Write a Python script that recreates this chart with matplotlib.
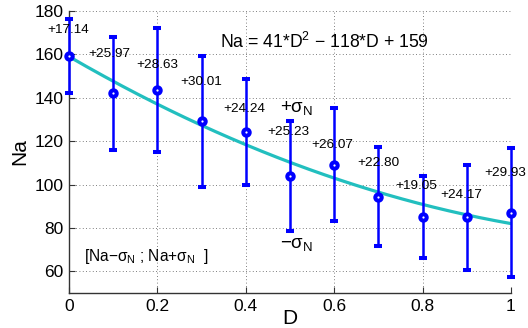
import numpy as np
import matplotlib
matplotlib.use("Agg")
import matplotlib.pyplot as plt

plt.rcParams['font.family'] = ['Liberation Sans', 'DejaVu Sans']
plt.rcParams['mathtext.fontset'] = 'custom'
plt.rcParams['mathtext.rm'] = 'Liberation Sans'
plt.rcParams['mathtext.it'] = 'Liberation Sans'

# data
D = [0.0, 0.1, 0.2, 0.3, 0.4, 0.5, 0.6, 0.7, 0.8, 0.9, 1.0]
Na = [159.3, 142.0, 143.4, 129.1, 124.2, 104.0, 109.2, 94.3, 85.1, 85.0, 87.1]
sigma = [17.14, 25.97, 28.63, 30.01, 24.24, 25.23, 26.07, 22.80, 19.05, 24.17, 29.93]
fit_coef = [41, -118, 159]

# where the +sigma labels sit relative to each point
lab_dx = [-0.05, -0.057, -0.048, -0.049, -0.052, -0.052, -0.051, -0.048, -0.061, -0.061, -0.06]
lab_dy = [12, 18, 11.5, 18, 10.5, 20, 9, 15.5, 14, 10, 18]

fig = plt.figure(figsize=(5.28, 3.28), dpi=100)
ax = fig.add_axes([0.1307, 0.1067, 0.8371, 0.8598])

xx = np.linspace(0, 1, 200)
ax.plot(xx, np.polyval(fit_coef, xx), color='#22bfbf', linewidth=2.3, zorder=2)

ax.errorbar(D, Na, yerr=sigma, fmt='o', color='#0000ff', ecolor='#0000ff',
            elinewidth=1.8, capsize=3, capthick=1.8, markersize=4.6,
            markerfacecolor='white', markeredgewidth=2.9, zorder=3, clip_on=False)

for d, n, s, dx, dy in zip(D, Na, sigma, lab_dx, lab_dy):
    ax.text(d + dx, n + dy, '+%.2f' % s, fontsize=9.7, ha='left', va='center', zorder=4)

ax.text(0.342, 165.5, r'Na = 41*D$^2$ $-$ 118*D + 159', fontsize=12.7, va='center', ha='left')
ax.text(0.478, 135.5, r'$+\sigma_N$', fontsize=13.5, va='center', ha='left')
ax.text(0.478, 72.5, r'$-\sigma_N$', fontsize=13.5, va='center', ha='left')
ax.text(0.034, 67, r'[Na$-\sigma_N$ ; Na+$\sigma_N$  ]', fontsize=11.2, va='center', ha='left')

ax.set_xlim(0, 1)
ax.set_ylim(50, 180)
ax.set_xticks([0, 0.2, 0.4, 0.6, 0.8, 1])
ax.set_xticklabels(['0', '0.2', '0.4', '0.6', '0.8', '1'])
ax.set_yticks([60, 80, 100, 120, 140, 160, 180])
ax.tick_params(direction='in', length=4, labelsize=12.5, color='#333333', width=0.8, pad=4)
ax.set_xlabel('D', fontsize=15, labelpad=-3)
ax.set_ylabel('Na', fontsize=15, labelpad=4)
ax.grid(True, linestyle=(0, (1, 3)), color='#555555', linewidth=0.6)
ax.spines['top'].set_visible(False)
ax.spines['right'].set_visible(False)
for sp in ['left', 'bottom']:
    ax.spines[sp].set_color('#333333')
    ax.spines[sp].set_linewidth(1.0)
ax.set_axisbelow(True)

plt.savefig('out.png', dpi=100)
